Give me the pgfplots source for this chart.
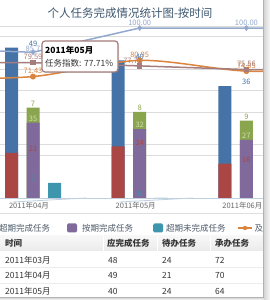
\documentclass[border=0pt]{standalone}
\usepackage{pgfplots}
\pgfplotsset{compat=1.18}
\usepackage{fontspec}
\setmainfont{Noto Sans CJK SC}
\usetikzlibrary{shadows}
\definecolor{cblue}{HTML}{4572A7}
\definecolor{cred}{HTML}{AA4643}
\definecolor{cgreen}{HTML}{89A54E}
\definecolor{cpurple}{HTML}{80699B}
\definecolor{cteal}{HTML}{3D96AE}
\definecolor{corange}{HTML}{DB843D}
\definecolor{clblue}{HTML}{92A8CD}
\definecolor{cbrown}{HTML}{A47D7C}
\definecolor{plabel}{HTML}{D6DDB4}
\definecolor{titlec}{HTML}{3E576F}
\definecolor{gridc}{HTML}{DCDCDC}
\definecolor{axisc}{HTML}{C0D0E0}
\definecolor{labc}{HTML}{666666}
\definecolor{legc}{HTML}{4D5B69}
\definecolor{tabc}{HTML}{333333}
\newcommand{\fs}[1]{\fontsize{#1}{#1}\selectfont}
\pgfplotsset{
  frame/.style={at={(0pt,102pt)}, anchor=south west, scale only axis,
    width=263pt, height=172pt, xmin=0.6907, xmax=3.1556},
}
\begin{document}
\begin{tikzpicture}[x=1pt,y=1pt]
\path[use as bounding box] (0,0) rectangle (270,300);
\clip (0,0) rectangle (270,300);
\fill[white] (0,0) rectangle (270,300);
% ---------- bars (primary axis) ----------
\begin{axis}[frame, ymin=0, ymax=80, clip=false,
  axis x line*=bottom, axis y line*=left,
  y axis line style={draw=none},
  x axis line style={draw=axisc, line width=0.8pt, -},
  ytick={20,25,40,50,60,75,80}, yticklabels={},
  ymajorgrids, major grid style={draw=gridc, line width=0.6pt},
  ytick style={draw=none},
  xtick={1,2,3}, xticklabels={2011年04月,2011年05月,2011年06月},
  xtick style={draw=none},
  xticklabel style={font=\fs{7.5}, text=labc, xshift=-4pt, yshift=-1pt},
  bar width=13pt,
  point meta=explicit symbolic,
  nodes near coords style={font=\fs{7.5}, anchor=south, inner sep=1pt},
]
\addplot[ybar, bar shift=-21.5pt, fill=cblue, draw=none, nodes near coords,
  nodes near coords style={text=cblue}]
  coordinates {(1,70) [49] (2,64) [40] (3,52) [36]};
\addplot[ybar, bar shift=-21.5pt, fill=cred, draw=none, nodes near coords,
  nodes near coords style={text=cred}]
  coordinates {(1,21) [21] (2,24) [24] (3,16) [16]};
\addplot[ybar, bar shift=0pt, fill=cgreen, draw=none, nodes near coords,
  nodes near coords style={text=cgreen}]
  coordinates {(1,42) [7] (2,40) [8] (3,36) [9]};
\addplot[ybar, bar shift=0pt, fill=cpurple, draw=none, nodes near coords,
  nodes near coords style={text=plabel}]
  coordinates {(1,35) [35] (2,32) [32] (3,27) [27]};
\addplot[ybar, bar shift=21.5pt, fill=cteal, draw=none, nodes near coords,
  nodes near coords style={text=cteal}]
  coordinates {(1,7) [7] (2,0) [0]};
\draw[axisc, line width=0.8pt] (axis cs:1.5,0) -- ++(0,-4pt);
\draw[axisc, line width=0.8pt] (axis cs:2.5,0) -- ++(0,-4pt);
\end{axis}
% ---------- lines (secondary axis, clipped) ----------
\begin{axis}[frame, ymin=0, ymax=101.18, hide axis]
\addplot[corange, line width=1.5pt, smooth, mark=*, mark size=2.2pt]
  coordinates {(0,70) (1,71.43) (2,80.95) (3,74.65) (4,76)};
\addplot[clblue, line width=1.5pt, mark=diamond*, mark size=1.8pt]
  coordinates {(0,88) (1,85.71) (2,100) (3,100) (4,100)};
\addplot[cbrown, line width=1.5pt, mark=square*, mark size=2pt]
  coordinates {(0,79.5) (1,79.59) (2,77.71) (3,75.56) (4,75)};
\end{axis}
% ---------- line labels ----------
\begin{axis}[frame, ymin=0, ymax=101.18, hide axis, clip=false,
  point meta=explicit symbolic,
  nodes near coords style={font=\fs{7.5}, anchor=south, inner sep=1pt, yshift=1.5pt}]
\addplot[draw=none, mark=none, nodes near coords, nodes near coords style={text=corange}]
  coordinates {(1,71.43) [71.43] (2,80.95) [80.95] (3,74.65) [74.65]};
\addplot[draw=none, mark=none, nodes near coords, nodes near coords style={text=clblue}]
  coordinates {(2,100) [100.00] (3,100) [100.00]};
\addplot[draw=none, mark=none, nodes near coords, nodes near coords style={text=clblue, anchor=center, yshift=2pt, xshift=2pt}]
  coordinates {(1,85.71) [85.71]};
\addplot[draw=none, mark=none, nodes near coords, nodes near coords style={text=cbrown}]
  coordinates {(1,79.59) [79.59] (3,75.56) [75.56]};
\addplot[draw=none, mark=none, nodes near coords, nodes near coords style={text=cbrown, xshift=-7pt}]
  coordinates {(2,77.71) [77.71]};
\end{axis}
% ---------- tooltip ----------
\node[draw=cbrown, line width=1.2pt, rounded corners=3pt, fill=white,
  drop shadow={opacity=0.2, shadow xshift=1pt, shadow yshift=-1pt},
  minimum width=76pt, minimum height=31pt, inner sep=0] at (80,243.5) {};
\node[anchor=west, font=\fs{8.5}\bfseries, text=black, inner sep=0] at (45,249.5) {2011年05月};
\node[anchor=west, font=\fs{8.5}, text=tabc, inner sep=0] at (45,237) {任务指数: 77.71\%};
% ---------- title ----------
\node[font=\fs{11.5}, text=titlec] at (130,287) {个人任务完成情况统计图-按时间};
% ---------- separator & legend ----------
\draw[gray!25, line width=0.6pt] (0,87) -- (263,87);
\begin{scope}[every node/.style={anchor=west, font=\fs{8.5}, text=legc, inner sep=0}]
\node at (-1,72) {超期完成任务};
\fill[cpurple, rounded corners=1.5pt] (67,67.5) rectangle (77,76.5);
\node at (82,72) {按期完成任务};
\fill[cteal, rounded corners=1.5pt] (153,67.5) rectangle (163,76.5);
\node at (166,72) {超期未完成任务};
\draw[corange, line width=1.5pt] (238,72) -- (252,72);
\fill[corange] (245,72) circle (2.2);
\node at (254.5,72) {及};
\end{scope}
% ---------- table ----------
\shade[top color=gray!6, bottom color=gray!16] (0,49) rectangle (263,64);
\foreach \xx in {103,157,210} \draw[white, line width=0.8pt] (\xx,49) -- (\xx,64);
\draw[gray!15] (0,33) -- (263,33);
\draw[gray!15] (0,17) -- (263,17);
\begin{scope}[every node/.style={anchor=west, font=\fs{8.5}, text=tabc, inner sep=0}]
\node[font=\fs{8.5}\bfseries] at (5,57) {时间};
\node[font=\fs{8.5}\bfseries] at (107,57) {应完成任务};
\node[font=\fs{8.5}\bfseries] at (162,57) {待办任务};
\node[font=\fs{8.5}\bfseries] at (215,57) {承办任务};
\node at (5,40) {2011年03月}; \node at (108,40) {48}; \node at (162,40) {24}; \node at (215,40) {72};
\node at (5,25) {2011年04月}; \node at (108,25) {49}; \node at (162,25) {21}; \node at (215,25) {70};
\node at (5,9) {2011年05月}; \node at (108,9) {40}; \node at (162,9) {24}; \node at (215,9) {64};
\end{scope}
% ---------- window frame ----------
\shade[left color=gray!35, right color=gray!5] (263.5,0) rectangle (270,300);
\shade[top color=gray!35, bottom color=gray!5] (0,0) rectangle (263.5,2.8);
\draw[gray!60, line width=0.8pt] (263.5,2.8) -- (263.5,300);
\draw[gray!60, line width=0.8pt] (0,2.8) -- (263.5,2.8);
\end{tikzpicture}
\end{document}
